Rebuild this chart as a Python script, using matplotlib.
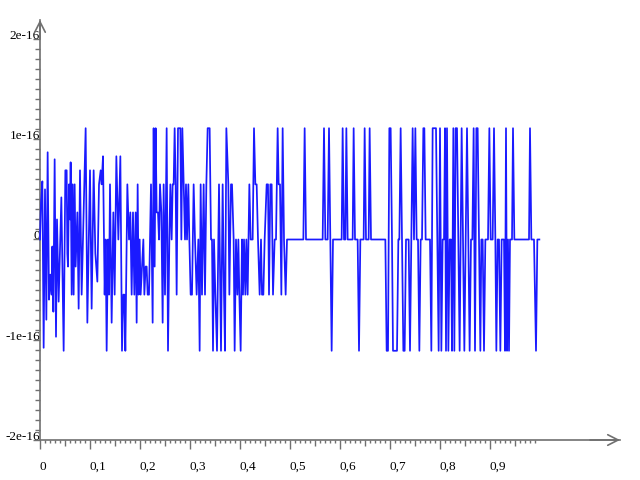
import numpy as np
import matplotlib
matplotlib.use("Agg")
import matplotlib.pyplot as plt
from matplotlib.ticker import FixedLocator, FixedFormatter, NullFormatter

plt.rcParams['font.family'] = ['Liberation Serif', 'DejaVu Serif']

# ---- data (x, value in units of 1e-16) ----
x_vals = [
    0.0000, 0.0020, 0.0047, 0.0073, 0.0100, 0.0127, 0.0153, 0.0180, 0.0207, 0.0233,
    0.0247, 0.0267, 0.0293, 0.0320, 0.0340, 0.0373, 0.0427, 0.0473, 0.0507, 0.0533,
    0.0547, 0.0560, 0.0580, 0.0600, 0.0613, 0.0633, 0.0653, 0.0673, 0.0693, 0.0713,
    0.0747, 0.0773, 0.0800, 0.0833, 0.0913, 0.0947, 0.1000, 0.1033, 0.1073, 0.1107,
    0.1147, 0.1180, 0.1213, 0.1233, 0.1260, 0.1293, 0.1313, 0.1333, 0.1360, 0.1380,
    0.1400, 0.1433, 0.1467, 0.1493, 0.1527, 0.1567, 0.1607, 0.1640, 0.1667, 0.1687,
    0.1707, 0.1747, 0.1780, 0.1807, 0.1833, 0.1860, 0.1887,
    0.1913, 0.1933, 0.1953, 0.1973, 0.1993, 0.2013, 0.2040, 0.2067, 0.2087, 0.2113,
    0.2133, 0.2153, 0.2180, 0.2220, 0.2253, 0.2273, 0.2293, 0.2313, 0.2333, 0.2360,
    0.2380, 0.2400, 0.2427, 0.2453, 0.2473, 0.2500, 0.2533, 0.2560, 0.2587, 0.2607,
    0.2633, 0.2653, 0.2673, 0.2693, 0.2713, 0.2733, 0.2760, 0.2807, 0.2827, 0.2847,
    0.2873, 0.2900, 0.2920, 0.2940, 0.2967, 0.2987, 0.3013, 0.3040, 0.3073, 0.3100,
    0.3133, 0.3167, 0.3193, 0.3213, 0.3240, 0.3273, 0.3300, 0.3327, 0.3353, 0.3393,
    0.3420, 0.3440, 0.3460, 0.3480, 0.3507, 0.3540, 0.3580, 0.3620, 0.3653, 0.3680,
    0.3700, 0.3727, 0.3767, 0.3787, 0.3820,
    0.3840, 0.3873, 0.3893, 0.3920, 0.3947, 0.3967, 0.3987, 0.4013, 0.4040, 0.4060,
    0.4080, 0.4107, 0.4127, 0.4153, 0.4187, 0.4213, 0.4253, 0.4280, 0.4307, 0.4333,
    0.4360, 0.4393, 0.4420, 0.4440, 0.4467, 0.4493, 0.4533, 0.4560, 0.4580, 0.4607,
    0.4633, 0.4660, 0.4693, 0.4720, 0.4753, 0.4773, 0.4800, 0.4827, 0.4853, 0.4880,
    0.4913, 0.4940, 0.5267, 0.5293, 0.5320, 0.5653, 0.5680, 0.5707, 0.5753, 0.5780,
    0.5807,
    0.5833, 0.5860, 0.6033, 0.6053, 0.6080, 0.6107, 0.6127, 0.6153, 0.6253, 0.6273,
    0.6300, 0.6353, 0.6380, 0.6407, 0.6473, 0.6493, 0.6520, 0.6573, 0.6593, 0.6620,
    0.6907, 0.6933, 0.6960, 0.6987, 0.7013, 0.7040, 0.7060, 0.7113, 0.7140, 0.7167,
    0.7187, 0.7213, 0.7240, 0.7267, 0.7293, 0.7320, 0.7373, 0.7400, 0.7427, 0.7453,
    0.7480, 0.7507, 0.7533, 0.7560, 0.7587, 0.7613, 0.7640, 0.7667, 0.7687, 0.7713,
    0.7800, 0.7827, 0.7853,
    0.7920, 0.7947, 0.7973, 0.8000, 0.8027, 0.8053, 0.8080, 0.8100, 0.8120, 0.8140,
    0.8167, 0.8193, 0.8220, 0.8240, 0.8267, 0.8287, 0.8313, 0.8340, 0.8367, 0.8393,
    0.8413, 0.8433, 0.8460, 0.8487, 0.8513, 0.8540, 0.8567, 0.8593, 0.8620, 0.8647,
    0.8673, 0.8700, 0.8727, 0.8753, 0.8780, 0.8807, 0.8827, 0.8853, 0.8880, 0.8907,
    0.8960, 0.8987, 0.9013, 0.9053, 0.9080, 0.9107, 0.9127, 0.9153, 0.9180, 0.9207,
    0.9233, 0.9280, 0.9300, 0.9320, 0.9340, 0.9360, 0.9380, 0.9400, 0.9440, 0.9460,
    0.9487, 0.9780, 0.9800, 0.9827, 0.9880, 0.9920, 0.9947, 0.9987,
]

y_vals_e16 = [
    0, 0.37, 0.58, -1.08, 0.5, -0.8, 0.87, -0.6, -0.35, -0.55,
    -0.07, -0.72, 0.8, -0.97, 0.2, -0.62, 0.42, -1.11, 0.69, 0.69,
    -0.14, -0.27, 0.55, 0.2, 0.77, -0.55, 0.55, -0.55, 0.55, -0.27,
    0.27, -0.69, 0.69, -0.55, 1.11, -0.83, 0.69, -0.69, 0.69, -0.14,
    -0.42, 0.55, 0.69, 0.55, 0.83, -0.55, 0, -1.11, 0, -0.55,
    0.55, -0.83, 0.27, -0.55, 0.83, 0, 0.83, -1.11, -0.55, -0.55,
    -1.11, 0.55, 0, 0.27, -0.55, 0.27, -0.55,
    0.27, -0.83, 0.55, -0.55, 0, -0.55, -0.27, 0, -0.55, -0.27,
    -0.27, -0.55, -0.55, 0.55, -0.83, 1.11, -0.27, 1.11, 0.27, 0.27,
    0, 0.55, 0.27, -0.83, 0.55, -0.55, 1.11, -1.11, 0, 0.55,
    0, 0.55, 0.55, 1.11, 0.55, -0.55, 1.11, 1.11, 0, 1.11,
    0.55, 0, 0.55, 0, 0.55, 0, -0.55, -0.55, 0.55, 0,
    -0.55, 0, -1.11, 0.55, -0.55, 0.55, -0.55, 0.55, 1.11, 1.11,
    0, 0, -1.11, 0, -0.55, -1.11, 0.55, -1.11, 0.55, -0.55,
    -1.11, 1.11, 0.55, -0.55, 0.55,
    0.55, 0, -1.11, 0, -0.55, 0, -0.55, -1.11, 0, -0.55,
    0, -0.55, 0, -0.55, 0.55, 0, 0, 1.11, 0.55, 0.55,
    0, -0.55, 0, -0.55, -0.55, 0, 0.55, 0.55, -0.55, 0.55,
    0.55, -0.55, 0, 0, 1.11, 0.55, 0.55, -0.55, 1.11, 0,
    -0.55, 0, 0, 1.11, 0, 0, 1.11, 0, 0, 1.11,
    0,
    -1.11, 0, 0, 1.11, 0, 0, 1.11, 0, 0, 1.11,
    0, 0, -1.11, 0, 0, 1.11, 0, 0, 1.11, 0,
    0, -1.11, -1.11, 1.11, 1.11, 0, -1.11, -1.11, -1.11, 0,
    0, 1.11, 0, -1.11, -1.11, 0, 0, -1.11, 0, 1.11,
    0, 1.11, 0, 0, -1.11, 0, 0, 1.11, 1.11, 0,
    0, -1.11, 1.11,
    1.11, 0, -1.11, 1.11, -1.11, 0, 0, 1.11, -1.11, 1.11,
    -1.11, 0, 0, -1.11, 1.11, -1.11, 1.11, 1.11, 0, -1.11,
    0, 1.11, 0, -1.11, 0, 1.11, 0, -1.11, 0, 0,
    1.11, -1.11, 1.11, 1.11, 0, -1.11, 0, 0, -1.11, 0,
    0, 1.11, 0, 0, 1.11, 0, -1.11, 0, 0, -1.11,
    0, 0, -1.11, 1.11, -1.11, 0, -1.11, 0, 0, 1.11,
    0, 0, 1.11, 0, 0, -1.11, 0, 0,
]

y_scale = 1e-16
y_ticks = [-2e-16, -1e-16, 0, 1e-16, 2e-16]
y_labels = ['-2e-16', '-1e-16', '0', '1e-16', '2e-16']
x_ticks = [0, 0.1, 0.2, 0.3, 0.4, 0.5, 0.6, 0.7, 0.8, 0.9]
x_labels = ['0', '0,1', '0,2', '0,3', '0,4', '0,5', '0,6', '0,7', '0,8', '0,9']

AXC = '#707070'

fig = plt.figure(figsize=(6.4, 4.8), dpi=100)
ax = fig.add_axes([0, 0, 1, 1])
ymin, ymax = -2.399e-16, 2.389e-16
ax.set_xlim(-0.08, 1.2)
ax.set_ylim(ymin, ymax)

ax.plot(np.array(x_vals), np.array(y_vals_e16) * y_scale, color='#1a1aff', lw=1.25,
        zorder=3)

for s in ['top', 'right']:
    ax.spines[s].set_visible(False)
ax.spines['left'].set_position(('data', 0))
ax.spines['left'].set_bounds(-2e-16, 2.19e-16)
ax.spines['bottom'].set_position(('data', -2e-16))
ax.spines['bottom'].set_bounds(0, 1.16)
for s in ['left', 'bottom']:
    ax.spines[s].set_color(AXC)
    ax.spines[s].set_linewidth(1.2)

# arrow heads
ax.annotate('', xy=(0, 2.19e-16), xytext=(0, 2.0e-16),
            arrowprops=dict(arrowstyle='->,head_length=0.75,head_width=0.38',
                            color=AXC, lw=1.2, shrinkA=0, shrinkB=0))
ax.annotate('', xy=(1.16, -2e-16), xytext=(1.1, -2e-16),
            arrowprops=dict(arrowstyle='->,head_length=0.75,head_width=0.38',
                            color=AXC, lw=1.2, shrinkA=0, shrinkB=0))

# y ticks
ax.yaxis.set_major_locator(FixedLocator(y_ticks))
ax.yaxis.set_major_formatter(FixedFormatter(y_labels))
ax.yaxis.set_minor_locator(FixedLocator([k * 1e-17 for k in range(-20, 21) if k % 10]))
ax.tick_params(axis='y', which='major', direction='out', length=5, width=1.0,
               color=AXC, pad=-5, labelsize=9.5)
ax.tick_params(axis='y', which='minor', direction='out', length=3.6, width=1.0, color=AXC)

# x ticks
ax.xaxis.set_major_locator(FixedLocator(x_ticks))
ax.xaxis.set_major_formatter(FixedFormatter(x_labels))
ax.xaxis.set_minor_locator(FixedLocator([k / 100 for k in range(1, 100) if k % 5]))
ax.tick_params(axis='x', which='major', direction='out', length=6.5, width=1.0,
               color=AXC, pad=8.5, labelsize=9.5)
ax.tick_params(axis='x', which='minor', direction='out', length=2.2, width=1.0, color=AXC)

loc = (-2e-16 - ymin) / (ymax - ymin)
sec = ax.secondary_xaxis(loc)
sec.set_xticks([k / 100 for k in range(5, 100, 10)])
sec.xaxis.set_major_formatter(NullFormatter())
sec.tick_params(axis='x', direction='out', length=4.3, width=1.0, color=AXC)
sec.spines['bottom'].set_visible(False)

for lab in ax.get_xticklabels():
    lab.set_horizontalalignment('left')
for lab in ax.get_yticklabels():
    lab.set_verticalalignment('baseline')

fig.savefig('out.png', dpi=100)
